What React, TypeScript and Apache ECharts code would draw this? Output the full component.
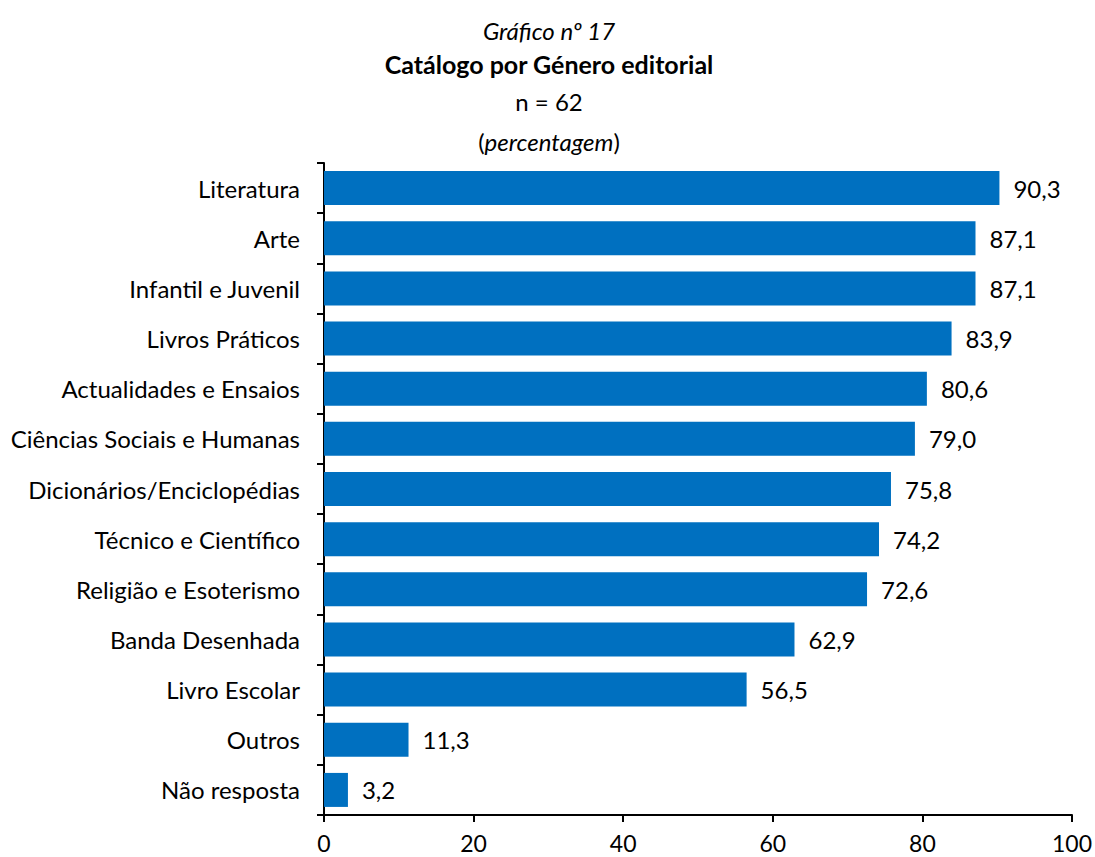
import React, { useEffect, useRef } from "react";
import * as echarts from "echarts";

const categories = [
  "Literatura",
  "Arte",
  "Infantil e Juvenil",
  "Livros Práticos",
  "Actualidades e Ensaios",
  "Ciências Sociais e Humanas",
  "Dicionários/Enciclopédias",
  "Técnico e Científico",
  "Religião e Esoterismo",
  "Banda Desenhada",
  "Livro Escolar",
  "Outros",
  "Não resposta",
];
const values = [90.3, 87.1, 87.1, 83.9, 80.6, 79.0, 75.8, 74.2, 72.6, 62.9, 56.5, 11.3, 3.2];
const xTicks = [0, 20, 40, 60, 80, 100];

const FONT = "Lato, 'Open Sans', sans-serif";
const FS = 24;

export default function App() {
  const ref = useRef<HTMLDivElement>(null);
  useEffect(() => {
    if (!ref.current) return;
    const chart = echarts.init(ref.current, null, { renderer: "svg" });
    chart.setOption({
      animation: false,
      textStyle: { fontFamily: FONT },
      graphic: [
        { type: "text", x: 549, y: 30, style: { text: "Gráfico nº 17", font: `italic ${FS}px ${FONT}`, fill: "#000", textAlign: "center", textVerticalAlign: "middle" } },
        { type: "text", x: 549, y: 64, style: { text: "Catálogo por Género editorial", font: `bold 25px ${FONT}`, fill: "#000", textAlign: "center", textVerticalAlign: "middle" } },
        { type: "text", x: 549, y: 101, style: { text: "n = 62", font: `${FS}px ${FONT}`, fill: "#000", textAlign: "center", textVerticalAlign: "middle" } },
        {
          type: "text", x: 549, y: 141,
          style: {
            text: "({i|percentagem})",
            font: `${FS}px ${FONT}`,
            fill: "#000",
            textAlign: "center",
            textVerticalAlign: "middle",
            rich: { i: { fontStyle: "italic", fontSize: FS, fontFamily: FONT, fill: "#000" } },
          },
        },
      ],
      grid: { left: 324, right: 22, top: 163, bottom: 42, containLabel: false },
      xAxis: {
        type: "value",
        min: 0,
        max: 100,
        interval: 20,
        axisLine: { show: true, lineStyle: { color: "#000", width: 2 } },
        axisTick: { show: true, length: 7, lineStyle: { color: "#000", width: 2 } },
        splitLine: { show: false },
        axisLabel: {
          margin: 16,
          fontSize: 23,
          lineHeight: 23,
          fontFamily: FONT,
          color: "#000",
          formatter: (v: number) => (xTicks.includes(v) ? String(v) : ""),
        },
      },
      yAxis: {
        type: "category",
        data: categories,
        inverse: true,
        axisLine: { show: true, lineStyle: { color: "#000", width: 2 } },
        axisTick: { show: true, length: 7, lineStyle: { color: "#000", width: 2 } },
        axisLabel: { margin: 24, fontSize: FS, fontFamily: FONT, color: "#000" },
      },
      series: [
        {
          type: "bar",
          data: values,
          barWidth: 34,
          itemStyle: { color: "#0070C0" },
          label: {
            show: true,
            position: "right",
            distance: 14,
            fontSize: FS,
            fontFamily: FONT,
            color: "#000",
            formatter: (p: any) => p.value.toFixed(1).replace(".", ","),
          },
        },
      ],
    });
    return () => chart.dispose();
  }, []);
  return <div ref={ref} style={{ position: "absolute", left: 0, top: 0, width: 1095, height: 857 }} />;
}
